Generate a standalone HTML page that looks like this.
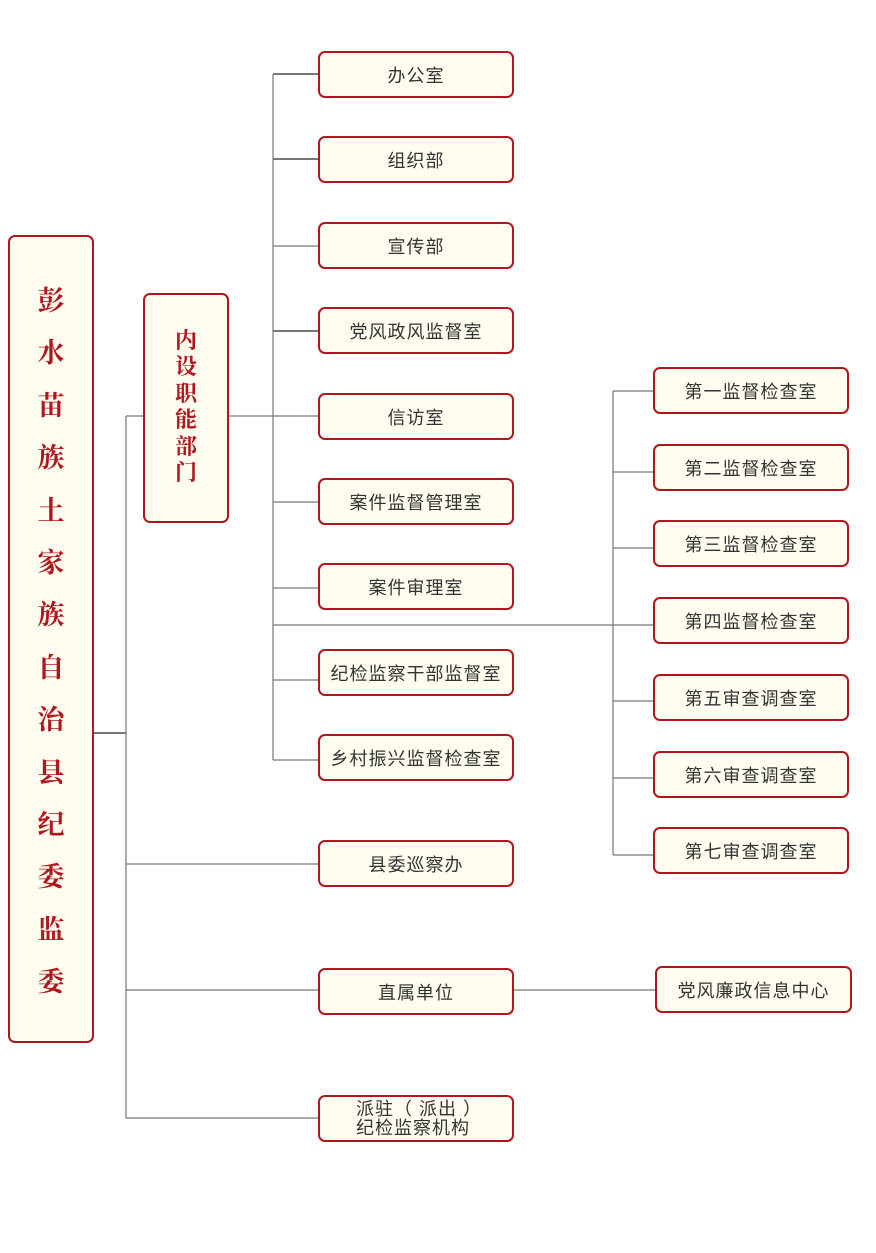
<!DOCTYPE html>
<html><head><meta charset="utf-8"><style>
body{margin:0;width:876px;height:1253px;background:#fff;position:relative;overflow:hidden}
.b{position:absolute;box-sizing:border-box;border:2px solid #b0161e;border-radius:7px;background:#fffdf0;display:flex;align-items:center;justify-content:center;font-family:"Liberation Sans","Noto Sans CJK SC",sans-serif;font-size:18px;color:#333;letter-spacing:1px;white-space:nowrap}
.v{position:absolute;font-family:"Noto Serif CJK SC",serif;font-weight:bold;color:#b0161e;text-align:center}
svg{position:absolute;left:0;top:0}
</style></head><body>
<svg width="876" height="1253"><g stroke="#777" stroke-width="1.2" fill="none">
<line x1="93" y1="733" x2="126" y2="733" stroke-width="2"/>
<line x1="126" y1="416" x2="126" y2="1118"/>
<line x1="126" y1="416" x2="143" y2="416"/>
<line x1="228" y1="416" x2="318" y2="416"/>
<line x1="273" y1="74" x2="273" y2="760"/>
<line x1="273" y1="74" x2="318" y2="74" stroke-width="2"/>
<line x1="273" y1="159" x2="318" y2="159" stroke-width="2"/>
<line x1="273" y1="246" x2="318" y2="246"/>
<line x1="273" y1="331" x2="318" y2="331" stroke-width="2"/>
<line x1="273" y1="502" x2="318" y2="502"/>
<line x1="273" y1="588" x2="318" y2="588"/>
<line x1="273" y1="680" x2="318" y2="680"/>
<line x1="273" y1="760" x2="318" y2="760"/>
<line x1="273" y1="625" x2="653" y2="625"/>
<line x1="613" y1="391" x2="613" y2="855"/>
<line x1="613" y1="391" x2="653" y2="391"/>
<line x1="613" y1="472" x2="653" y2="472"/>
<line x1="613" y1="548" x2="653" y2="548"/>
<line x1="613" y1="701" x2="653" y2="701"/>
<line x1="613" y1="778" x2="653" y2="778"/>
<line x1="613" y1="855" x2="653" y2="855"/>
<line x1="126" y1="864" x2="318" y2="864"/>
<line x1="126" y1="990" x2="318" y2="990"/>
<line x1="126" y1="1118" x2="318" y2="1118"/>
<line x1="513" y1="990" x2="655" y2="990"/>
</g></svg>
<div class="b" style="left:8px;top:235px;width:86px;height:808px"></div>
<div class="v" style="left:8px;top:273px;width:86px;font-size:27px;line-height:52.4px">彭<br>水<br>苗<br>族<br>土<br>家<br>族<br>自<br>治<br>县<br>纪<br>委<br>监<br>委</div>
<div class="b" style="left:143px;top:293px;width:86px;height:230px"></div>
<div class="v" style="left:143px;top:327px;width:86px;font-size:22px;line-height:26.4px">内<br>设<br>职<br>能<br>部<br>门</div>
<div class="b" style="left:318px;top:51px;width:196px;height:47px">办公室</div>
<div class="b" style="left:318px;top:136px;width:196px;height:47px">组织部</div>
<div class="b" style="left:318px;top:222px;width:196px;height:47px">宣传部</div>
<div class="b" style="left:318px;top:307px;width:196px;height:47px">党风政风监督室</div>
<div class="b" style="left:318px;top:393px;width:196px;height:47px">信访室</div>
<div class="b" style="left:318px;top:478px;width:196px;height:47px">案件监督管理室</div>
<div class="b" style="left:318px;top:563px;width:196px;height:47px">案件审理室</div>
<div class="b" style="left:318px;top:649px;width:196px;height:47px">纪检监察干部监督室</div>
<div class="b" style="left:318px;top:734px;width:196px;height:47px">乡村振兴监督检查室</div>
<div class="b" style="left:318px;top:840px;width:196px;height:47px">县委巡察办</div>
<div class="b" style="left:318px;top:968px;width:196px;height:47px">直属单位</div>
<div class="b" style="left:318px;top:1095px;width:196px;height:47px;line-height:19px;text-align:left;justify-content:flex-start;padding-left:36px">派驻（ 派出 ）<br>纪检监察机构</div>
<div class="b" style="left:653px;top:367px;width:196px;height:47px">第一监督检查室</div>
<div class="b" style="left:653px;top:444px;width:196px;height:47px">第二监督检查室</div>
<div class="b" style="left:653px;top:520px;width:196px;height:47px">第三监督检查室</div>
<div class="b" style="left:653px;top:597px;width:196px;height:47px">第四监督检查室</div>
<div class="b" style="left:653px;top:674px;width:196px;height:47px">第五审查调查室</div>
<div class="b" style="left:653px;top:751px;width:196px;height:47px">第六审查调查室</div>
<div class="b" style="left:653px;top:827px;width:196px;height:47px">第七审查调查室</div>
<div class="b" style="left:655px;top:966px;width:197px;height:47px">党风廉政信息中心</div>
</body></html>
